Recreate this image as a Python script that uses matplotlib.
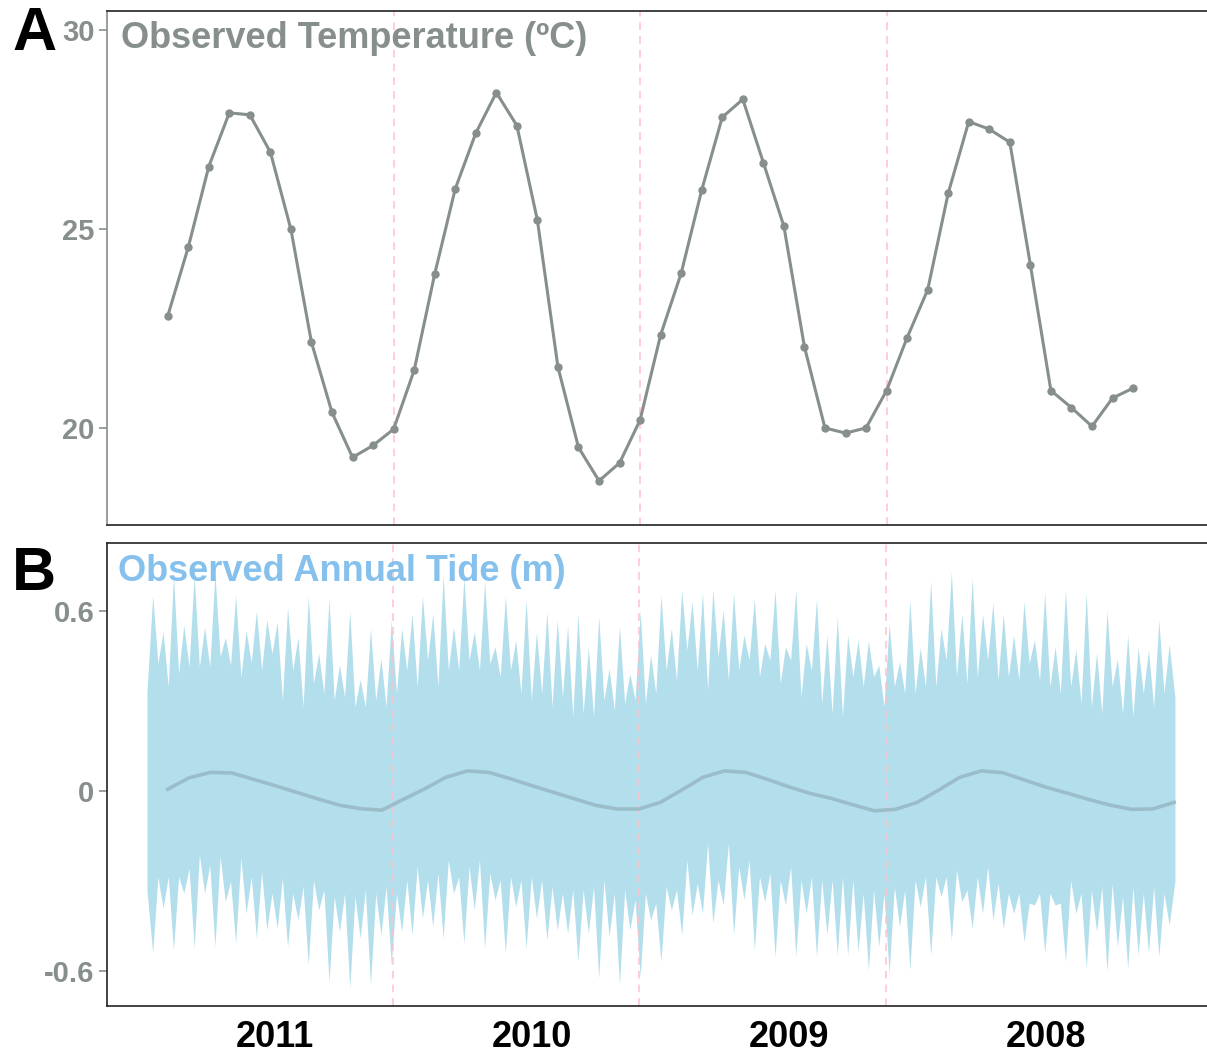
import matplotlib
matplotlib.use("Agg")
import matplotlib.pyplot as plt
import numpy as np

plt.rcParams["font.family"] = ["Liberation Sans", "DejaVu Sans"]
plt.rcParams["font.weight"] = "bold"

# Monthly observed temperature (ºC), 48 months
temp = [22.81, 24.54, 26.57, 27.92, 27.87, 26.93, 24.99, 22.15, 20.39, 19.26, 19.56, 19.97,
        21.45, 23.87, 26.01, 27.41, 28.43, 27.60, 25.22, 21.53, 19.51, 18.67, 19.12, 20.20,
        22.34, 23.89, 25.98, 27.81, 28.26, 26.67, 25.07, 22.04, 20.00, 19.87, 20.00, 20.94,
        22.27, 23.47, 25.90, 27.70, 27.51, 27.18, 24.10, 20.94, 20.51, 20.04, 20.75, 21.00]

# Monthly mean of the tide (m), 48 months
tide_mean = [0.006, 0.044, 0.062, 0.060, 0.039, 0.018, -0.004, -0.026, -0.047, -0.059, -0.064, -0.028,
             0.007, 0.046, 0.067, 0.062, 0.041, 0.018, -0.004, -0.026, -0.048, -0.060, -0.060, -0.038,
             0.003, 0.046, 0.067, 0.062, 0.039, 0.014, -0.008, -0.025, -0.046, -0.066, -0.061, -0.038,
             0.003, 0.046, 0.067, 0.061, 0.037, 0.013, -0.007, -0.028, -0.047, -0.061, -0.060, -0.038]

# Tide envelope: spring-tide highs / lows (one per ~fortnight) and the levels between them
tide_hi_peaks = [0.653, 0.531, 0.72, 0.553, 0.72, 0.548, 0.726, 0.512, 0.653, 0.534, 0.601, 0.572, 0.564, 0.612, 0.512, 0.65, 0.459,
                 0.642, 0.42, 0.601, 0.372, 0.542, 0.442, 0.57, 0.542, 0.592, 0.65, 0.592, 0.72, 0.548, 0.714, 0.531, 0.698,
                 0.481, 0.65, 0.503, 0.639, 0.531, 0.598, 0.57, 0.55, 0.592, 0.479, 0.581, 0.409, 0.55, 0.392, 0.601, 0.453, 0.653,
                 0.542, 0.67, 0.631, 0.661, 0.672, 0.603, 0.661, 0.52, 0.642, 0.492, 0.67, 0.481, 0.672, 0.492, 0.642, 0.52, 0.581,
                 0.52, 0.503, 0.501, 0.42, 0.559, 0.431, 0.639, 0.479, 0.701, 0.542, 0.731, 0.592, 0.709, 0.59, 0.628, 0.59,
                 0.52, 0.631, 0.503, 0.661, 0.481, 0.672, 0.472, 0.661, 0.461, 0.601, 0.442, 0.52, 0.479, 0.47, 0.57, 0.49]
tide_hi_valleys = [0.426, 0.348, 0.392, 0.414, 0.414, 0.414, 0.448, 0.42, 0.381, 0.43, 0.403, 0.459, 0.303, 0.403, 0.281, 0.359,
                   0.326, 0.303, 0.314, 0.281, 0.281, 0.303, 0.281, 0.326, 0.403, 0.348, 0.437, 0.348, 0.403, 0.403, 0.437, 0.403,
                   0.426, 0.381, 0.403, 0.326, 0.303, 0.326, 0.281, 0.314, 0.248, 0.259, 0.248, 0.303, 0.27, 0.292, 0.303, 0.292, 0.326,
                   0.403, 0.37, 0.47, 0.403, 0.337, 0.448, 0.37, 0.403, 0.437, 0.381, 0.437, 0.359, 0.437, 0.314, 0.403, 0.292, 0.259,
                   0.248, 0.381, 0.348, 0.381, 0.281, 0.348, 0.326, 0.326, 0.348, 0.348, 0.437, 0.381, 0.359, 0.381, 0.437, 0.37,
                   0.381, 0.37, 0.426, 0.37, 0.348, 0.326, 0.348, 0.292, 0.281, 0.259, 0.348, 0.259, 0.248, 0.326, 0.281, 0.326]
tide_lo_troughs = [-0.541, -0.391, -0.53, -0.341, -0.524, -0.341, -0.519, -0.369, -0.508, -0.408, -0.491, -0.463, -0.458, -0.519, -0.43, -0.58, -0.397,
                   -0.636, -0.469, -0.658, -0.491, -0.647, -0.48, -0.58, -0.469, -0.48, -0.424, -0.452, -0.491, -0.341, -0.508, -0.397, -0.524,
                   -0.363, -0.541, -0.386, -0.524, -0.424, -0.497, -0.463, -0.474, -0.569, -0.474, -0.624, -0.486, -0.647, -0.463, -0.619, -0.43, -0.569,
                   -0.397, -0.48, -0.413, -0.408, -0.441, -0.38, -0.48, -0.363, -0.53, -0.369, -0.552, -0.38, -0.552, -0.408, -0.552, -0.48, -0.547,
                   -0.547, -0.536, -0.597, -0.519, -0.608, -0.452, -0.597, -0.386, -0.547, -0.352, -0.497, -0.369, -0.458, -0.408, -0.43, -0.458,
                   -0.408, -0.502, -0.38, -0.541, -0.38, -0.569, -0.408, -0.591, -0.469, -0.602, -0.519, -0.591, -0.547, -0.541, -0.552, -0.447]
tide_lo_inner = [-0.286, -0.286, -0.286, -0.258, -0.213, -0.247, -0.219, -0.302, -0.224, -0.286, -0.269, -0.341, -0.291, -0.341, -0.319, -0.297,
                 -0.33, -0.352, -0.341, -0.352, -0.33, -0.341, -0.319, -0.341, -0.297, -0.252, -0.297, -0.274, -0.23, -0.286, -0.252, -0.23,
                 -0.274, -0.297, -0.286, -0.297, -0.286, -0.297, -0.319, -0.341, -0.33, -0.33, -0.319, -0.297, -0.341, -0.33, -0.363, -0.341, -0.374,
                 -0.319, -0.33, -0.23, -0.308, -0.174, -0.297, -0.174, -0.252, -0.23, -0.286, -0.274, -0.297, -0.252, -0.297, -0.286, -0.297, -0.297,
                 -0.286, -0.297, -0.341, -0.33, -0.341, -0.319, -0.33, -0.297, -0.286, -0.286, -0.286, -0.263, -0.33, -0.286, -0.252, -0.308,
                 -0.341, -0.341, -0.374, -0.341, -0.341, -0.374, -0.297, -0.341, -0.33, -0.319, -0.308, -0.352, -0.319, -0.341, -0.319, -0.341]
tide_edges_hi = [0.33, 0.31]   # level at first / last record
tide_edges_lo = [-0.33, -0.30]

year_labels = ["2011", "2010", "2009", "2008"]
year_breaks = [11, 23, 35]  # month index of the dashed separators

GREY = "#878F8D"
TIDE_FILL = "#B3DFED"
TIDE_MEAN = "#9BBDC9"
TITLE_BLUE = "#85C1EC"
PINK = "#FFC0CB"

# time axes (month index of the temperature series)
months = np.arange(len(temp))
mean_t = np.linspace(0, 49, len(tide_mean))
peak_t = np.linspace(-0.73, 48.76, len(tide_hi_peaks))
valley_t = (peak_t[:-1] + peak_t[1:]) / 2


def interleave(peaks, valleys):
    out = np.empty(len(peaks) + len(valleys))
    out[0::2] = peaks
    out[1::2] = valleys
    return out


env_t = np.concatenate([[-1.01], interleave(peak_t, valley_t), [49.04]])
env_hi = np.concatenate([[tide_edges_hi[0]], interleave(tide_hi_peaks, tide_hi_valleys), [tide_edges_hi[1]]])
env_lo = np.concatenate([[tide_edges_lo[0]], interleave(tide_lo_troughs, tide_lo_inner), [tide_edges_lo[1]]])

fig = plt.figure(figsize=(12.07, 10.53), dpi=100)
ax1 = fig.add_axes([107 / 1207, 1 - 525 / 1053, 1100 / 1207, 514 / 1053])
ax2 = fig.add_axes([107 / 1207, 1 - 1006 / 1053, 1100 / 1207, 463 / 1053])

xlim = (-2.955, 50.6)

# --- A: temperature
ax1.plot(months, temp, color=GREY, lw=2.2, marker="o", ms=5, zorder=3)
for b in year_breaks:
    ax1.axvline(b, color=PINK, ls=(0, (5, 4)), lw=1.1, zorder=1)
ax1.set_xlim(*xlim)
ax1.set_ylim(17.56, 30.48)
ax1.set_yticks([20, 25, 30])
ax1.set_xticks([])
ax1.text(0.0125, 0.98, "Observed Temperature (ºC)", transform=ax1.transAxes,
         ha="left", va="top", fontsize=26, fontweight="bold", color=GREY, zorder=5)

# --- B: tide
ax2.fill_between(env_t, env_lo, env_hi, color=TIDE_FILL, lw=0, zorder=1)
ax2.plot(mean_t, tide_mean, color=TIDE_MEAN, lw=2.6, zorder=3)
for b in year_breaks:
    ax2.axvline(b - 0.05, color=PINK, ls=(0, (5, 4)), lw=1.1, zorder=2)
ax2.set_xlim(*xlim)
ax2.set_ylim(-0.717, 0.827)
ax2.set_yticks([-0.6, 0, 0.6])
ax2.set_yticklabels(["-0.6", "0", "0.6"])
ax2.set_xticks(np.array([5, 17, 29, 41]) * 49 / 47)
ax2.set_xticklabels(year_labels)
ax2.text(0.01, 0.976, "Observed Annual Tide (m)", transform=ax2.transAxes,
         ha="left", va="top", fontsize=26, fontweight="bold", color=TITLE_BLUE, zorder=5)

for ax, left_col in ((ax1, GREY), (ax2, "#222222")):
    ax.spines["right"].set_visible(False)
    ax.spines["top"].set_color("#222222")
    ax.spines["bottom"].set_color("#222222")
    ax.spines["left"].set_color(left_col)
    for s in ax.spines.values():
        s.set_linewidth(1.2)
    ax.tick_params(axis="y", colors=GREY, labelsize=21, length=6, width=1.2, pad=3)
    for lab in ax.get_yticklabels():
        lab.set_fontweight("bold")

ax2.tick_params(axis="x", length=0, labelsize=26, labelcolor="black", pad=10)
for lab in ax2.get_xticklabels():
    lab.set_fontweight("bold")

fig.text(12 / 1207, 1 - 6 / 1053, "A", fontsize=44, fontweight="bold", ha="left", va="top")
fig.text(12 / 1207, 1 - 546 / 1053, "B", fontsize=44, fontweight="bold", ha="left", va="top")

fig.savefig("out.png", dpi=100)
